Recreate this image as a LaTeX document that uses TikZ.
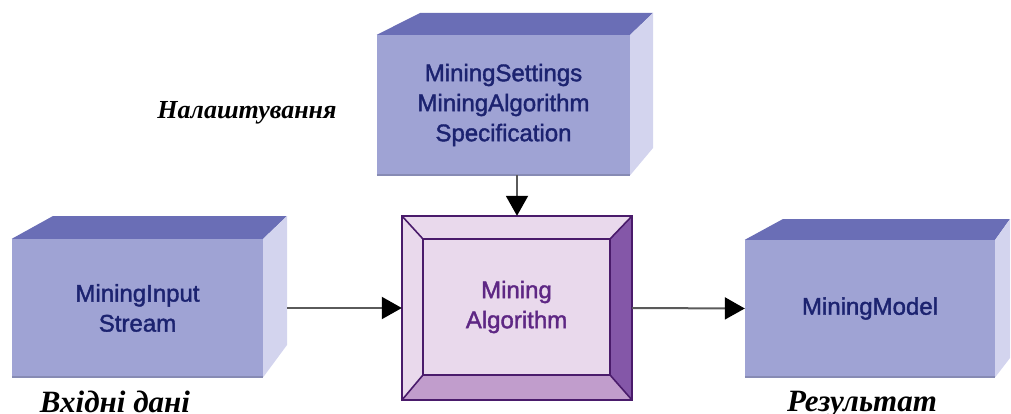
\documentclass[tikz,border=0pt]{standalone}
\usepackage{fontspec}
\usetikzlibrary{arrows.meta}
\newfontfamily\arialf[RawFeature={embolden=1.6}]{Liberation Sans}
\newfontfamily\tnrf{Liberation Serif}
\definecolor{boxfront}{HTML}{9FA3D4}
\definecolor{boxtop}{HTML}{6A6EB6}
\definecolor{boxside}{HTML}{D3D4EE}
\definecolor{boxtext}{HTML}{1C2370}
\definecolor{algoline}{HTML}{4A1B6B}
\definecolor{algolight}{HTML}{E9D9EC}
\definecolor{algodark}{HTML}{8457A8}
\definecolor{algomid}{HTML}{C19DCC}
\definecolor{algotext}{HTML}{5E2784}
\definecolor{conn}{HTML}{5A5A5A}
\tikzset{
  front/.style={draw=none, fill=boxfront, inner sep=0pt, align=center,
    font=\arialf\fontsize{24}{30}\selectfont, text=boxtext},
  topface/.style={fill=boxtop},
  sideface/.style={fill=boxside},
  bottomedge/.style={draw=boxfront!85!black, line width=1.5pt},
  conn/.style={draw=conn, line width=2pt, -{Triangle[length=20pt,width=22pt,color=black]}},
  label/.style={font=\tnrf\bfseries\itshape\fontsize{26}{30}\selectfont, anchor=base},
  biglabel/.style={label, font=\tnrf\bfseries\itshape\fontsize{31}{34}\selectfont},
  algoedge/.style={draw=algoline, line width=1.6pt, line join=miter}
}
\begin{document}
\begin{tikzpicture}[x=1pt,y=-1pt]
\useasboundingbox (0,0) rectangle (1011,414);
% top box
\node[front, minimum width=253pt, minimum height=140pt] (settings) at (503.5,105)
  {MiningSettings\\MiningAlgorithm\\Specification};
\coordinate (setTL) at (420,13);
\coordinate (setTR) at (653,13);
\coordinate (setBR) at (653,148);
\fill[topface] (settings.north west) -- (setTL) -- (setTR) -- (settings.north east) -- cycle;
\fill[sideface] (settings.north east) -- (setTR) -- (setBR) -- (settings.south east) -- cycle;
\draw[bottomedge] (settings.south west) -- (settings.south east);
% left box
\node[front, minimum width=251pt, minimum height=138pt] (input) at (137.5,308)
  {MiningInput\\Stream};
\coordinate (inTL) at (53,216);
\coordinate (inTR) at (287,216);
\coordinate (inBR) at (287,345);
\fill[topface] (input.north west) -- (inTL) -- (inTR) -- (input.north east) -- cycle;
\fill[sideface] (input.north east) -- (inTR) -- (inBR) -- (input.south east) -- cycle;
\draw[bottomedge] (input.south west) -- (input.south east);
% right box
\node[front, minimum width=250pt, minimum height=137pt] (model) at (870,308.5)
  {MiningModel};
\coordinate (moTL) at (783,219);
\coordinate (moTR) at (1010,219);
\coordinate (moBR) at (1010,358);
\fill[topface] (model.north west) -- (moTL) -- (moTR) -- (model.north east) -- cycle;
\fill[sideface] (model.north east) -- (moTR) -- (moBR) -- (model.south east) -- cycle;
\draw[bottomedge] (model.south west) -- (model.south east);
% centre algorithm box
\node[draw=none, fill=algolight, minimum width=230pt, minimum height=184pt, inner sep=0pt] (algo) at (517,308) {};
\node[draw=none, fill=algolight, minimum width=187pt, minimum height=136pt, inner sep=0pt,
  align=center, font=\arialf\fontsize{24}{30}\selectfont, text=algotext] (algoin) at (516.5,307)
  {Mining\\Algorithm};
\fill[algodark] (algo.north east) -- (algoin.north east) -- (algoin.south east) -- (algo.south east) -- cycle;
\fill[algomid] (algo.south west) -- (algoin.south west) -- (algoin.south east) -- (algo.south east) -- cycle;
\draw[algoedge] (algo.north west) rectangle (algo.south east);
\draw[algoedge] (algoin.north west) rectangle (algoin.south east);
\draw[algoedge] (algo.north west) -- (algoin.north west);
\draw[algoedge] (algo.north east) -- (algoin.north east);
\draw[algoedge] (algo.south west) -- (algoin.south west);
\draw[algoedge] (algo.south east) -- (algoin.south east);
% connectors
\coordinate (inout) at (287,308);
\draw[conn] (inout) -- (algo.west);
\draw[conn] (algo.east) -- (model.west);
\draw[conn] (algo.north |- settings.south) -- (algo.north);
% labels
\node[label] (lset) at (247,119) {Налаштування};
\node[biglabel] (lin) at (115,412) {Вхідні дані};
\node[biglabel] (lout) at (862,411) {Результат};
\end{tikzpicture}
\end{document}
